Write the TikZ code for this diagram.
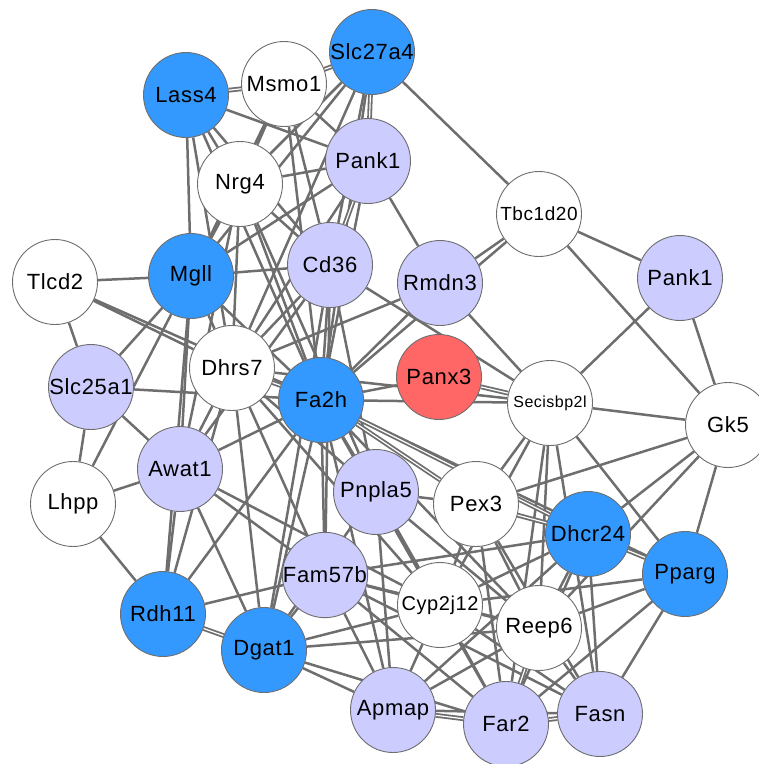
\documentclass[tikz,border=0pt]{standalone}
\usepackage{fontspec}
\setmainfont[LetterSpace=3]{Liberation Sans}
\usepackage{tikz}
\usetikzlibrary{backgrounds}
\definecolor{geneblue}{HTML}{3399FF}
\definecolor{genelav}{HTML}{CCCCFF}
\definecolor{genered}{HTML}{FF6666}
\definecolor{linkgray}{HTML}{6E6E6E}
\tikzset{
    raw gene/.style={circle, draw=linkgray, line width=0.9pt, minimum size=85pt, inner sep=0pt,
        font=\fontsize{22}{24}\selectfont, text=black},
    gene white/.style={raw gene, fill=white},
    gene blue/.style={raw gene, fill=geneblue},
    gene lav/.style={raw gene, fill=genelav},
    gene red/.style={raw gene, fill=genered},
    link/.style={draw=linkgray, line width=2.5pt},
    twin link/.style={draw=linkgray, line width=1.8pt, double=white, double distance=1.2pt}
}

\begin{document}
\begin{tikzpicture}[x=1pt, y=-1pt]
	\useasboundingbox (0,0) rectangle (759,764);
	% genes
	\node[gene blue]  (slc27a4) at (372,52)  {Slc27a4};
	\node[gene white] (msmo1)   at (284,84)  {Msmo1};
	\node[gene blue]  (lass4)   at (186,95)  {Lass4};
	\node[gene lav]   (pankA)   at (368,161) {Pank1};
	\node[gene white] (nrg4)    at (240,184) {Nrg4};
	\node[gene white, font=\fontsize{19}{21}\selectfont] (tbc1d20) at (539,214) {Tbc1d20};
	\node[gene white] (tlcd2)   at (55,282)  {Tlcd2};
	\node[gene blue]  (mgll)    at (191,276) {Mgll};
	\node[gene lav]   (cd36)    at (330,265) {Cd36};
	\node[gene lav]   (rmdn3)   at (440,283) {Rmdn3};
	\node[gene lav]   (pankB)   at (680,278) {Pank1};
	\node[gene white] (dhrs7)   at (232,368) {Dhrs7};
	\node[gene lav]   (slc25a1) at (91,387)  {Slc25a1};
	\node[gene blue]  (fa2h)    at (321,400) {Fa2h};
	\node[gene red]   (panx3)   at (439,377) {Panx3};
	\node[gene white, font=\fontsize{16}{18}\selectfont] (secis) at (550,403) {Secisbp2l};
	\node[gene white] (gk5)     at (728,425) {Gk5};
	\node[gene lav]   (awat1)   at (180,469) {Awat1};
	\node[gene white] (lhpp)    at (73,504)  {Lhpp};
	\node[gene lav]   (pnpla5)  at (376,492) {Pnpla5};
	\node[gene white] (pex3)    at (476,504) {Pex3};
	\node[gene blue]  (dhcr24)  at (588,534) {Dhcr24};
	\node[gene blue]  (pparg)   at (685,574) {Pparg};
	\node[gene lav]   (fam57b)  at (325,575) {Fam57b};
	\node[gene white, font=\fontsize{20}{22}\selectfont] (cyp2j12) at (440,605) {Cyp2j12};
	\node[gene white] (reep6)   at (539,628) {Reep6};
	\node[gene blue]  (rdh11)   at (163,614) {Rdh11};
	\node[gene blue]  (dgat1)   at (264,650) {Dgat1};
	\node[gene lav]   (apmap)   at (393,710) {Apmap};
	\node[gene lav]   (far2)    at (506,724) {Far2};
	\node[gene lav]   (fasn)    at (600,714) {Fasn};
	% interactions
	\begin{scope}[on background layer]
		\foreach \a/\b in {slc27a4/tbc1d20, slc27a4/mgll, slc27a4/dhrs7, slc27a4/cd36, slc27a4/fa2h, slc27a4/nrg4,
			msmo1/pankA, msmo1/nrg4, msmo1/fa2h, msmo1/cd36, msmo1/mgll,
			lass4/pankA, lass4/nrg4, lass4/mgll, lass4/dhrs7, lass4/fa2h, lass4/cd36,
			nrg4/pankA, nrg4/mgll, nrg4/dhrs7, nrg4/fa2h, nrg4/cd36, nrg4/awat1, nrg4/pnpla5,
			pankA/rmdn3, pankA/mgll, pankA/dhrs7, pankA/fa2h,
			tbc1d20/rmdn3, tbc1d20/pankB, tbc1d20/gk5, tbc1d20/fa2h,
			rmdn3/fa2h, rmdn3/secis, rmdn3/dhrs7,
			cd36/fa2h, cd36/secis, cd36/dhrs7, cd36/mgll, cd36/pnpla5, cd36/fam57b, cd36/dgat1, cd36/awat1,
			tlcd2/mgll, tlcd2/slc25a1, tlcd2/dhrs7, tlcd2/fa2h,
			mgll/dhrs7, mgll/slc25a1, mgll/lhpp, mgll/fa2h, mgll/awat1, mgll/rdh11,
			slc25a1/fa2h, slc25a1/awat1, slc25a1/lhpp,
			lhpp/awat1, lhpp/rdh11,
			dhrs7/awat1, dhrs7/pnpla5, dhrs7/fam57b, dhrs7/dgat1, dhrs7/rdh11, dhrs7/secis, dhrs7/cyp2j12,
			awat1/fa2h, awat1/rdh11, awat1/fam57b, awat1/dgat1, awat1/cyp2j12,
			fa2h/panx3, fa2h/secis, fa2h/pparg, fa2h/reep6, fa2h/pnpla5, fa2h/cyp2j12, fa2h/fam57b,
			fa2h/dgat1, fa2h/apmap, fa2h/rdh11, fa2h/far2,
			secis/pankB, secis/gk5, secis/pex3, secis/reep6, secis/far2, secis/fasn, secis/cyp2j12, secis/pparg,
			pankB/gk5,
			gk5/pex3, gk5/dhcr24, gk5/pparg, gk5/reep6,
			pex3/cyp2j12, pex3/reep6, pex3/fasn, pex3/far2, pex3/pnpla5,
			pnpla5/cyp2j12, pnpla5/reep6, pnpla5/dgat1, pnpla5/apmap,
			dhcr24/reep6, dhcr24/fasn, dhcr24/far2, dhcr24/cyp2j12, dhcr24/fam57b, dhcr24/apmap,
			pparg/reep6, pparg/fasn, pparg/far2, pparg/cyp2j12,
			fam57b/cyp2j12, fam57b/reep6, fam57b/far2, fam57b/fasn, fam57b/apmap, fam57b/dgat1, fam57b/rdh11,
			cyp2j12/reep6, cyp2j12/apmap, cyp2j12/far2, cyp2j12/fasn, cyp2j12/dgat1,
			reep6/fasn, reep6/apmap, reep6/dgat1,
			dgat1/apmap, dgat1/far2,
			apmap/fasn}
			\draw[link] (\a) -- (\b);
		\foreach \a/\b in {slc27a4/msmo1, slc27a4/pankA, lass4/msmo1, pankA/cd36, rdh11/dgat1,
			dhcr24/pparg, far2/fasn, apmap/far2, panx3/secis, fa2h/dhcr24, fa2h/pex3,
			dhrs7/fa2h, reep6/far2, pex3/dhcr24}
			\draw[twin link] (\a) -- (\b);
	\end{scope}
\end{tikzpicture}
\end{document}
